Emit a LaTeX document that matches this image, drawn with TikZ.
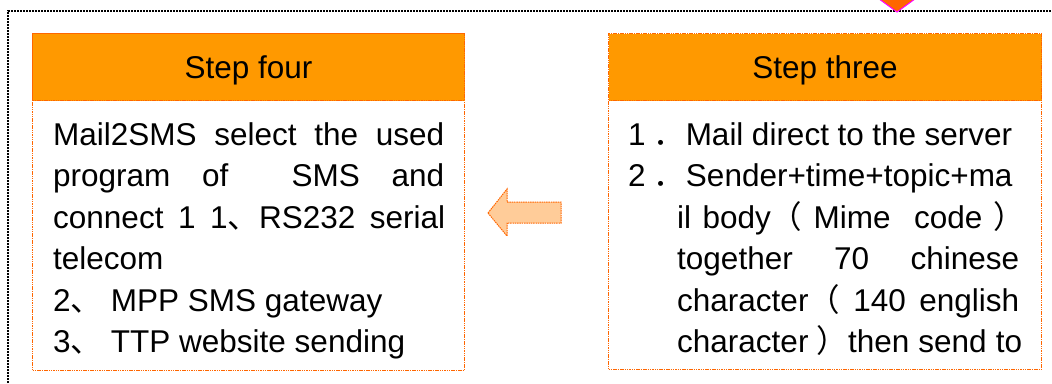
\documentclass[tikz,border=0pt]{standalone}
\usepackage{fontspec}
\setmainfont{Liberation Sans}
\newfontfamily\cjk{Noto Sans CJK SC}
\newcommand{\fstop}{\hspace{8pt}{\cjk ．}\hspace{-8pt}}
\definecolor{headorange}{HTML}{FF9900}
\definecolor{lineorange}{HTML}{FF6600}
\definecolor{arrowfill}{HTML}{FFCC99}
\definecolor{topfill}{HTML}{FF6600}
\definecolor{topline}{HTML}{FF00FF}
\tikzset{
  frameline/.style={draw=black, line width=1.2pt, dash pattern=on 2pt off 1pt},
  stepbody/.style={draw=lineorange, line width=1pt, dash pattern=on 1.5pt off 0.8pt, fill=white, anchor=north west, inner sep=0pt},
  stephead/.style={draw=lineorange, line width=1pt, dash pattern=on 1.5pt off 0.8pt, fill=headorange, anchor=north west, inner sep=0pt, text height=22pt, text depth=0pt, align=center},
  bodytext/.style={anchor=base west, inner sep=0pt},
  midarrow/.style={draw=lineorange, line width=1pt, dash pattern=on 1.5pt off 0.8pt, fill=arrowfill, line join=miter},
  toparrow/.style={draw=topline, line width=1pt, fill=topfill}
}
\begin{document}
\begin{tikzpicture}[x=1pt,y=-1pt,font=\fontsize{31.5}{41.5}\selectfont]
\useasboundingbox (0,0) rectangle (1052,383);
\clip (0,0) rectangle (1052,383);
\fill[white] (0,0) rectangle (1052,383);
% outer frame
\draw[frameline] (8,395) -- (8,11) -- (1065,11);
% top arrow
\draw[toparrow] (864,-12) -- (897,12) -- (930,-12);
% step four box
\node[stepbody, minimum width=432pt, minimum height=337pt] (fourbox) at (32,33) {};
\node[stephead, minimum width=432pt, minimum height=67pt] (fourhead) at (32,33) {Step four};
% step three box
\node[stepbody, minimum width=433pt, minimum height=336pt] (threebox) at (608,33) {};
\node[stephead, minimum width=433pt, minimum height=67pt] (threehead) at (608,33) {Step three};
% middle arrow
\draw[midarrow] (488,213) -- (507,189) -- (507,202) -- (561,202) -- (561,223) -- (507,223) -- (507,236) -- cycle;
% step four text
\node[bodytext] (f1) at (53,145) {\makebox[391pt][s]{Mail2SMS select the used}};
\node[bodytext] (f2) at (53,186.5) {\makebox[391pt][s]{program of \ SMS and}};
\node[bodytext] (f3) at (53,228) {\makebox[392pt][s]{connect 1 1{\cjk 、}RS232 serial}};
\node[bodytext] (f4) at (53,269.5) {telecom};
\node[bodytext] (f5) at (53,311) {2{\cjk 、} MPP SMS gateway};
\node[bodytext] (f6) at (53,352.5) {3{\cjk 、} TTP website sending};
% step three text
\node[bodytext] (t1) at (628,145) {\makebox[384pt][s]{1\fstop{} Mail direct to the server}};
\node[bodytext] (t2) at (628,186.5) {2\fstop{} Sender+time+topic+ma};
\node[bodytext] (t3) at (677,228) {\makebox[348pt][s]{il body{\cjk （} Mime\hspace{12pt} code {\cjk ）}}};
\node[bodytext] (t4) at (677,269.5) {\makebox[342pt][s]{together 70 chinese}};
\node[bodytext] (t5) at (677,311) {\makebox[342pt][s]{character{\cjk （} 140 english}};
\node[bodytext] (t6) at (677,352.5) {\makebox[345pt][s]{character\hspace{8pt}{\cjk ）}then send to}};
\end{tikzpicture}
\end{document}
